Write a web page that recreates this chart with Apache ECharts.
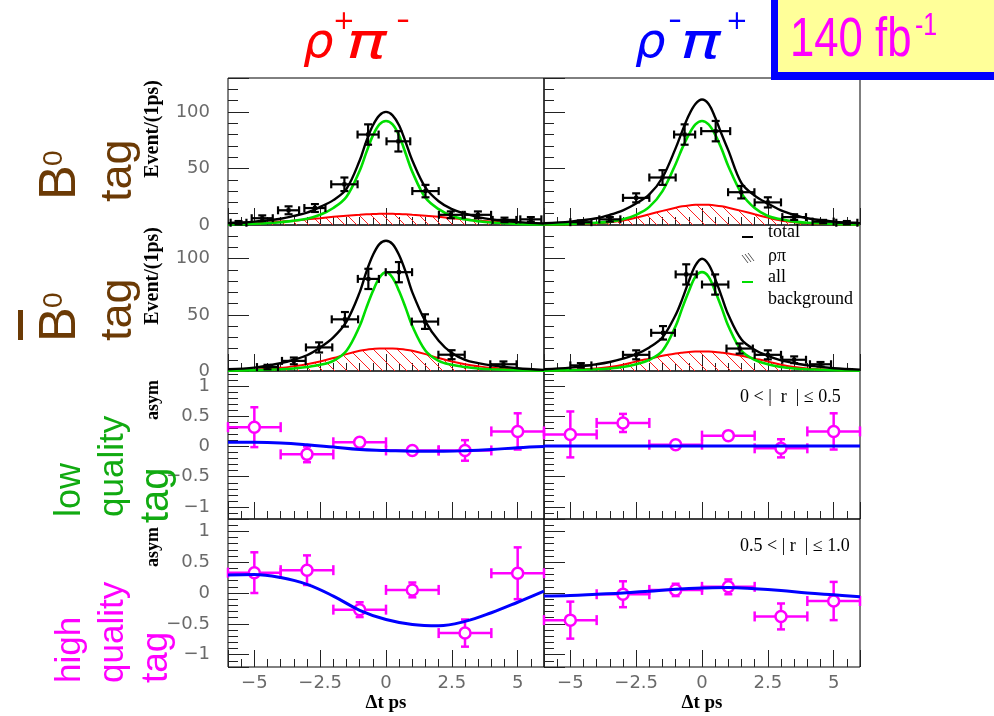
<!DOCTYPE html>
<html><head><meta charset="utf-8">
<script src="https://cdn.jsdelivr.net/npm/echarts@6/dist/echarts.min.js"></script>
<style>html,body{margin:0;padding:0;background:#fff}#c{width:994px;height:716px}</style>
</head><body><div id="c"></div>
<script>
// ---------------- DATA ----------------
// time grid (ps) at which the fitted curves were read
const tCurve = [-6,-5,-4,-3.5,-3,-2.5,-2,-1.5,-1,-0.75,-0.5,-0.25,0,0.25,0.5,0.75,1,1.5,2,2.5,3,3.5,4,5,6];

// B0 tag, rho+ pi-
const b0RpTotal = [1.5,3,5.5,8,11,16,22,32,57,74,88,97,100,97,88,73,57,33,21,14,10,7,5,2.5,1.3];
const b0RpAll   = [0.5,1.2,2.5,3.8,5.5,9,15,25,48,64,79,89,92,89,79,63,47,24,14,8,5,3.3,2.2,1,0.5];
const b0RpBkg   = [0.8,1.5,3,3.8,5,6,7.2,8.2,9,9.4,9.7,9.9,10,9.9,9.7,9.4,9,8.2,7.2,6,5,3.8,3,1.5,0.8];
const b0RpT  = [-5.6,-4.7,-3.7,-2.7,-1.58,-0.68,0.47,1.5,2.46,3.49,4.5,5.5];
const b0RpN  = [2,6,13,15,36,80,74,30,9,9,4.5,5];
const b0RpTe = [0.3,0.4,0.4,0.4,0.5,0.4,0.45,0.5,0.45,0.5,0.45,0.4];
const b0RpNe = [1.5,2.5,3.5,3.5,6,9,9,5.5,3,3,2,2];

// B0 tag, rho- pi+
const b0RmTotal = [1.5,3,6,9,13,19,27,42,68,83,97,107,111,107,95,80,66,37,26,19,13,9,6,3,1.5];
const b0RmAll   = [0.5,1,2,3,5,9,16,30,54,68,80,89,92,89,80,67,52,28,15,8,5,3,2,1,0.5];
const b0RmBkg   = [0.3,0.6,1.5,2.5,4,6.5,9.5,12.5,15.3,16.5,17.3,17.8,18,17.8,17.3,16.5,15.3,12.5,9.5,6.5,4,2.5,1.5,0.6,0.3];
const b0RmT  = [-4.6,-3.5,-2.5,-1.5,-0.66,0.52,1.49,2.5,3.5,4.6,5.5];
const b0RmN  = [2.5,5,24,42,80,83,29,20,7,3,2];
const b0RmTe = [0.4,0.4,0.5,0.5,0.4,0.55,0.5,0.5,0.45,0.4,0.4];
const b0RmNe = [1.5,2,4,6.5,9,9,5.5,4.5,2.5,1.5,1.5];

// B0bar tag, rho+ pi-
const b0bRpTotal = [1.5,3,7,10,14,21,30,44,70,88,103,113,116,113,103,88,70,44,27,16,10,7,5,2.5,1];
const b0bRpAll   = [0.3,0.7,1.5,2.2,3.5,5.5,9,18,40,56,71,83,88,83,71,56,40,18,9,5.5,3.5,2.2,1.5,0.7,0.3];
const b0bRpBkg   = [0.5,1.2,2.8,4.2,6,8.5,11.5,15,18,19,19.6,20,20,20,19.6,19,18,15,11.5,8.5,6,4.2,2.8,1.2,0.5];
const b0bRpT  = [-4.5,-3.5,-2.54,-1.56,-0.67,0.49,1.48,2.49,4.46];
const b0bRpN  = [3.5,9,21,46,82,88,44,14.5,6];
const b0bRpTe = [0.4,0.45,0.5,0.5,0.4,0.5,0.5,0.5,0.5];
const b0bRpNe = [2,3,4.5,6.5,9,9,6.5,4,2.5];

// B0bar tag, rho- pi+
const b0bRmTotal = [1.5,3,6,8,11,15,21,30,50,64,80,94,100,95,82,66,50,28,19,13.5,9.5,7,5,2.5,1.2];
const b0bRmAll   = [0.3,0.7,1.5,2.2,3.5,6,10,18,40,56,71,84,88,84,71,56,40,18,10,6,3.5,2.2,1.5,0.7,0.3];
const b0bRmBkg   = [0.4,1,2.3,3.5,5.5,8.5,11,13.5,15.5,16.3,17,17.3,17.4,17.3,17,16.3,15.5,13.5,11,8.5,5.5,3.5,2.3,1,0.4];
const b0bRmT  = [-4.6,-2.5,-1.48,-0.6,0.5,1.43,2.5,3.5,4.5];
const b0bRmN  = [5,14.4,34,86,77,20,14.4,10,6];
const b0bRmTe = [0.4,0.5,0.45,0.4,0.5,0.5,0.5,0.45,0.4];
const b0bRmNe = [2,4,6,9,9,4.5,4,3,2];

// asymmetry points
const asymT  = [-5,-3,-1,1,3,5];
const asymTe = [1,1,1,1,1,1];
const lowRpA  = [0.32,-0.13,0.07,-0.065,-0.065,0.25];
const lowRpAe = [0.33,0.13,0.04,0.04,0.17,0.3];
const lowRmA  = [0.2,0.39,0.03,0.18,-0.03,0.25];
const lowRmAe = [0.38,0.15,0.03,0.04,0.15,0.3];
const highRpA  = [0.33,0.37,-0.27,0.05,-0.65,0.32];
const highRpAe = [0.33,0.24,0.12,0.12,0.22,0.42];
const highRmA  = [-0.44,-0.02,0.05,0.1,-0.38,-0.13];
const highRmAe = [0.3,0.21,0.1,0.12,0.21,0.31];

// asymmetry fit curves
const tAsym = [-6,-5,-4,-3,-2,-1,0,1,2,3,4,5,6];
const lowRpFit  = [0.07,0.07,0.06,0.03,-0.01,-0.05,-0.065,-0.08,-0.08,-0.07,-0.05,-0.02,0.0];
const lowRmFit  = [0.01,0.01,0.01,0.01,0.01,0.01,0.01,0.01,0.01,0.01,0.01,0.01,0.01];
const highRpFit = [0.29,0.3,0.25,0.14,-0.05,-0.28,-0.43,-0.51,-0.53,-0.46,-0.32,-0.15,0.03];
const highRmFit = [-0.05,-0.04,-0.02,0.0,0.03,0.06,0.08,0.09,0.07,0.04,0.0,-0.03,-0.06];

// tick labels
const xTickVals = [-5,-2.5,0,2.5,5];
const xTickLabels = ['\u22125','\u22122.5','0','2.5','5'];
const nTickVals = [0,50,100];
const nTickLabels = ['0','50','100'];
const aTickVals = [-1,-0.5,0,0.5,1];
const aTickLabels = ['\u22121','\u22120.5','0','0.5','1'];

// ---------------- LAYOUT ----------------
const rowsPx = [{top:78,h:147},{top:225,h:146},{top:371,h:148},{top:519,h:148}];
const colsPx = [{left:228,w:316},{left:544,w:316}];

const panels = [
  {r:0,c:0,kind:'n',tot:b0RpTotal,all:b0RpAll,bkg:b0RpBkg,pt:b0RpT,pv:b0RpN,pte:b0RpTe,pve:b0RpNe},
  {r:0,c:1,kind:'n',tot:b0RmTotal,all:b0RmAll,bkg:b0RmBkg,pt:b0RmT,pv:b0RmN,pte:b0RmTe,pve:b0RmNe},
  {r:1,c:0,kind:'n',tot:b0bRpTotal,all:b0bRpAll,bkg:b0bRpBkg,pt:b0bRpT,pv:b0bRpN,pte:b0bRpTe,pve:b0bRpNe},
  {r:1,c:1,kind:'n',tot:b0bRmTotal,all:b0bRmAll,bkg:b0bRmBkg,pt:b0bRmT,pv:b0bRmN,pte:b0bRmTe,pve:b0bRmNe},
  {r:2,c:0,kind:'a',fit:lowRpFit,pt:asymT,pv:lowRpA,pte:asymTe,pve:lowRpAe,ymin:-1.2,ymax:1.25},
  {r:2,c:1,kind:'a',fit:lowRmFit,pt:asymT,pv:lowRmA,pte:asymTe,pve:lowRmAe,ymin:-1.2,ymax:1.25},
  {r:3,c:0,kind:'a',fit:highRpFit,pt:asymT,pv:highRpA,pte:asymTe,pve:highRpAe,ymin:-1.2,ymax:1.2},
  {r:3,c:1,kind:'a',fit:highRmFit,pt:asymT,pv:highRmA,pte:asymTe,pve:highRmAe,ymin:-1.2,ymax:1.2}
];

function hatch(){
  const s=12, cv=document.createElement('canvas'); cv.width=s; cv.height=s;
  const g=cv.getContext('2d'); g.strokeStyle='#ff2020'; g.lineWidth=1;
  g.beginPath(); g.moveTo(0,0); g.lineTo(s,s); g.moveTo(-s/2,s/2); g.lineTo(s/2,s*1.5); g.moveTo(s/2,-s/2); g.lineTo(s*1.5,s/2); g.stroke();
  return cv;
}
const hatchCanvas = hatch();

function lookup(vals, labels, v){
  for (let i=0;i<vals.length;i++) if (Math.abs(vals[i]-v)<1e-6) return labels[i];
  return '';
}
const tickFont = {fontFamily:'DejaVu Sans', fontSize:18, color:'#6a6a6a'};

const grid=[], xAxis=[], yAxis=[], series=[];
panels.forEach((p,g)=>{
  const R=rowsPx[p.r], C=colsPx[p.c];
  grid.push({left:C.left, top:R.top, width:C.w, height:R.h, show:true, borderColor:'#000', borderWidth:1, backgroundColor:'transparent', outerBoundsMode:'none'});
  const bottomRow = p.r===3;
  xAxis.push({type:'value', gridIndex:g, position:'bottom', min:-6, max:6, minInterval:2.5, maxInterval:2.5, splitNumber:5,
    axisLine:{show:false, onZero:false}, splitLine:{show:false},
    axisTick:{show:true, inside:true, length:17, lineStyle:{color:'#222', width:1}},
    axisLabel:{show:bottomRow, margin:7, ...tickFont, formatter:v=>lookup(xTickVals,xTickLabels,v)},
    name: bottomRow?'\u0394t ps':'', nameLocation:'middle', nameGap:27,
    nameTextStyle:{fontFamily:'Liberation Serif', fontWeight:'bold', fontSize:19, color:'#000'}});
  xAxis.push({type:'value', gridIndex:g, position:'bottom', min:-6, max:6, minInterval:0.5, maxInterval:0.5, splitNumber:24,
    axisLine:{show:false, onZero:false}, splitLine:{show:false}, axisLabel:{show:false},
    axisTick:{show:true, inside:true, length:8, lineStyle:{color:'#222', width:1}}});
  const isN = p.kind==='n';
  yAxis.push({type:'value', gridIndex:g, position:'left', min:isN?0:p.ymin, max:isN?130:p.ymax,
    minInterval:isN?50:0.5, maxInterval:isN?50:0.5, splitNumber:isN?3:5,
    axisLine:{show:false, onZero:false}, splitLine:{show:false},
    axisTick:{show:true, inside:true, length:21, lineStyle:{color:'#222', width:1}},
    axisLabel:{show:p.c===0, margin:18, ...tickFont,
      formatter:v=>isN?lookup(nTickVals,nTickLabels,v):lookup(aTickVals,aTickLabels,v)}});
  yAxis.push({type:'value', gridIndex:g, position:'left', min:isN?0:p.ymin, max:isN?130:p.ymax,
    minInterval:isN?10:0.1, maxInterval:isN?10:0.1, splitNumber:isN?13:24,
    axisLine:{show:false, onZero:false}, splitLine:{show:false}, axisLabel:{show:false},
    axisTick:{show:true, inside:true, length:10, lineStyle:{color:'#222', width:1}}});
  const xi=2*g, yi=2*g;
  const errColor = isN?'#000':'#ff00ff';
  const lw = isN?2.2:2.5;
  const capX = isN?4:5, capY = 4;
  series.push({type:'custom', xAxisIndex:xi, yAxisIndex:yi, z:isN?6:3, silent:true,
    data:p.pt.map((t,i)=>[t,p.pv[i],p.pte[i],p.pve[i]]), encode:{x:0,y:1},
    renderItem:(params,api)=>{
      const t=api.value(0), y=api.value(1), xe=api.value(2), ye=api.value(3);
      const c=api.coord([t,y]), L=api.coord([t-xe,y]), Rr=api.coord([t+xe,y]), T=api.coord([t,y+ye]), B=api.coord([t,y-ye]);
      const st={stroke:errColor, lineWidth:lw};
      const ch=[
        {type:'line', shape:{x1:L[0],y1:c[1],x2:Rr[0],y2:c[1]}, style:st},
        {type:'line', shape:{x1:c[0],y1:T[1],x2:c[0],y2:B[1]}, style:st},
        {type:'line', shape:{x1:L[0],y1:c[1]-capX,x2:L[0],y2:c[1]+capX}, style:st},
        {type:'line', shape:{x1:Rr[0],y1:c[1]-capX,x2:Rr[0],y2:c[1]+capX}, style:st},
        {type:'line', shape:{x1:c[0]-capY,y1:T[1],x2:c[0]+capY,y2:T[1]}, style:st},
        {type:'line', shape:{x1:c[0]-capY,y1:B[1],x2:c[0]+capY,y2:B[1]}, style:st}
      ];
      if (!isN) ch.push({type:'circle', shape:{cx:c[0],cy:c[1],r:5.5}, style:{fill:'#fff', stroke:errColor, lineWidth:2.5}});
      else ch.push({type:'rect', shape:{x:c[0]-2,y:c[1]-2,width:4,height:4}, style:{fill:'#000'}});
      return {type:'group', children:ch};
    }});
  if (isN){
    series.push({type:'line', xAxisIndex:xi, yAxisIndex:yi, z:2, silent:true, smooth:0.35, showSymbol:false,
      data:tCurve.map((t,i)=>[t,p.bkg[i]]), lineStyle:{color:'#ff0000', width:2},
      areaStyle:{color:{image:hatchCanvas, repeat:'repeat'}, opacity:1}});
    series.push({type:'line', xAxisIndex:xi, yAxisIndex:yi, z:4, silent:true, smooth:0.35, showSymbol:false,
      data:tCurve.map((t,i)=>[t,p.all[i]]), lineStyle:{color:'#00dd00', width:2.6}});
    series.push({type:'line', xAxisIndex:xi, yAxisIndex:yi, z:5, silent:true, smooth:0.35, showSymbol:false,
      data:tCurve.map((t,i)=>[t,p.tot[i]]), lineStyle:{color:'#000', width:2.4}});
  } else {
    series.push({type:'line', xAxisIndex:xi, yAxisIndex:yi, z:5, silent:true, smooth:0.4, showSymbol:false,
      data:tAsym.map((t,i)=>[t,p.fit[i]]), lineStyle:{color:'#0000ff', width:3}});
  }
});

// ---------------- ANNOTATIONS ----------------
const R90 = Math.PI/2;
function vt(text,x,y,size,color,family,weight,align){
  return {type:'text', x:x, y:y, rotation:R90, z:50,
    style:{text:text, font:(weight||'normal')+' '+size+'px '+(family||'Liberation Sans'), fill:color, align:align||'left', verticalAlign:'middle'}};
}
function ht(text,x,y,size,color,family,style,align,sx){
  return {type:'text', x:x, y:y, z:50, scaleX:sx||1,
    style:{text:text, font:(style||'normal')+' '+size+'px '+(family||'Liberation Sans'), fill:color, align:align||'left', verticalAlign:'middle'}};
}
const brown='#6b3a05', grn='#11aa11', mag='#ff00ff';
const graphic = [
  // titles
  ht('\u03c1',303,45,48,'#ff0000','DejaVu Sans','italic'),
  ht('+',333,22,26,'#ff0000','DejaVu Sans'),
  ht('\u03c0',346,45,50,'#ff0000','DejaVu Sans','italic','left',1.35),
  ht('-',396,21,30,'#ff0000','DejaVu Sans','normal','left',1.3),
  ht('\u03c1',635,45,48,'#0000ff','DejaVu Sans','italic'),
  ht('-',668,21,30,'#0000ff','DejaVu Sans','normal','left',1.3),
  ht('\u03c0',680,45,50,'#0000ff','DejaVu Sans','italic','left',1.35),
  ht('+',726,22,26,'#0000ff','DejaVu Sans'),
  // luminosity box
  {type:'rect', shape:{x:771,y:0,width:223,height:80}, style:{fill:'#0000ff'}, z:40},
  {type:'rect', shape:{x:778,y:0,width:216,height:72}, style:{fill:'#ffff99'}, z:41},
  {type:'text', x:790, y:41, z:50, scaleX:0.78, style:{text:'140 fb', font:'normal 56px Liberation Sans', fill:mag, align:'left', verticalAlign:'middle'}},
  {type:'text', x:915, y:26, z:50, scaleX:0.78, style:{text:'-1', font:'normal 32px Liberation Sans', fill:mag, align:'left', verticalAlign:'middle'}},
  // left labels
  vt('B',61,200,52,brown),
  vt('0',54,166,28,brown),
  vt('tag',119,202,45,brown),
  vt('B',61,342,52,brown),
  vt('0',54,308,28,brown),
  {type:'rect', shape:{x:18,y:310,width:5,height:30}, style:{fill:brown}, z:50},
  vt('tag',119,341,45,brown),
  vt('low',70,517,36,grn),
  vt('quality',113,517,35,grn),
  vt('tag',157,523,40,grn),
  vt('high',70,683,35,mag),
  vt('quality',113,683,35,mag),
  vt('tag',157,683,37,mag),
  // y axis titles
  vt('Event/(1ps)',153,80,20,'#000','Liberation Serif','bold','right'),
  vt('Event/(1ps)',153,227,20,'#000','Liberation Serif','bold','right'),
  vt('asym',153,380,18,'#000','Liberation Serif','bold','right'),
  vt('asym',153,527,18,'#000','Liberation Serif','bold','right'),
  // legend
  {type:'line', shape:{x1:742,y1:237,x2:753,y2:237}, style:{stroke:'#000', lineWidth:2}, z:50},
  ht('total',768,232,18,'#000','Liberation Serif'),
  {type:'line', shape:{x1:742,y1:255,x2:748,y2:263}, style:{stroke:'#555', lineWidth:1}, z:50},
  {type:'line', shape:{x1:745,y1:254,x2:751,y2:262}, style:{stroke:'#555', lineWidth:1}, z:50},
  {type:'line', shape:{x1:748,y1:253,x2:754,y2:261}, style:{stroke:'#555', lineWidth:1}, z:50},
  ht('\u03c1\u03c0',768,256,18,'#000','Liberation Serif'),
  {type:'line', shape:{x1:742,y1:282,x2:753,y2:282}, style:{stroke:'#00dd00', lineWidth:2}, z:50},
  ht('all',768,277,18,'#000','Liberation Serif'),
  ht('background',768,299,18,'#000','Liberation Serif'),
  // quality ranges
  ht('0 < |  r  | \u2264 0.5',740,397,18,'#000','Liberation Serif'),
  ht('0.5 < | r  | \u2264 1.0',740,546,18,'#000','Liberation Serif')
];

const chart = echarts.init(document.getElementById('c'), null, {renderer:'canvas'});
chart.setOption({animation:false, backgroundColor:'#fff', grid, xAxis, yAxis, series, graphic});
</script></body></html>
